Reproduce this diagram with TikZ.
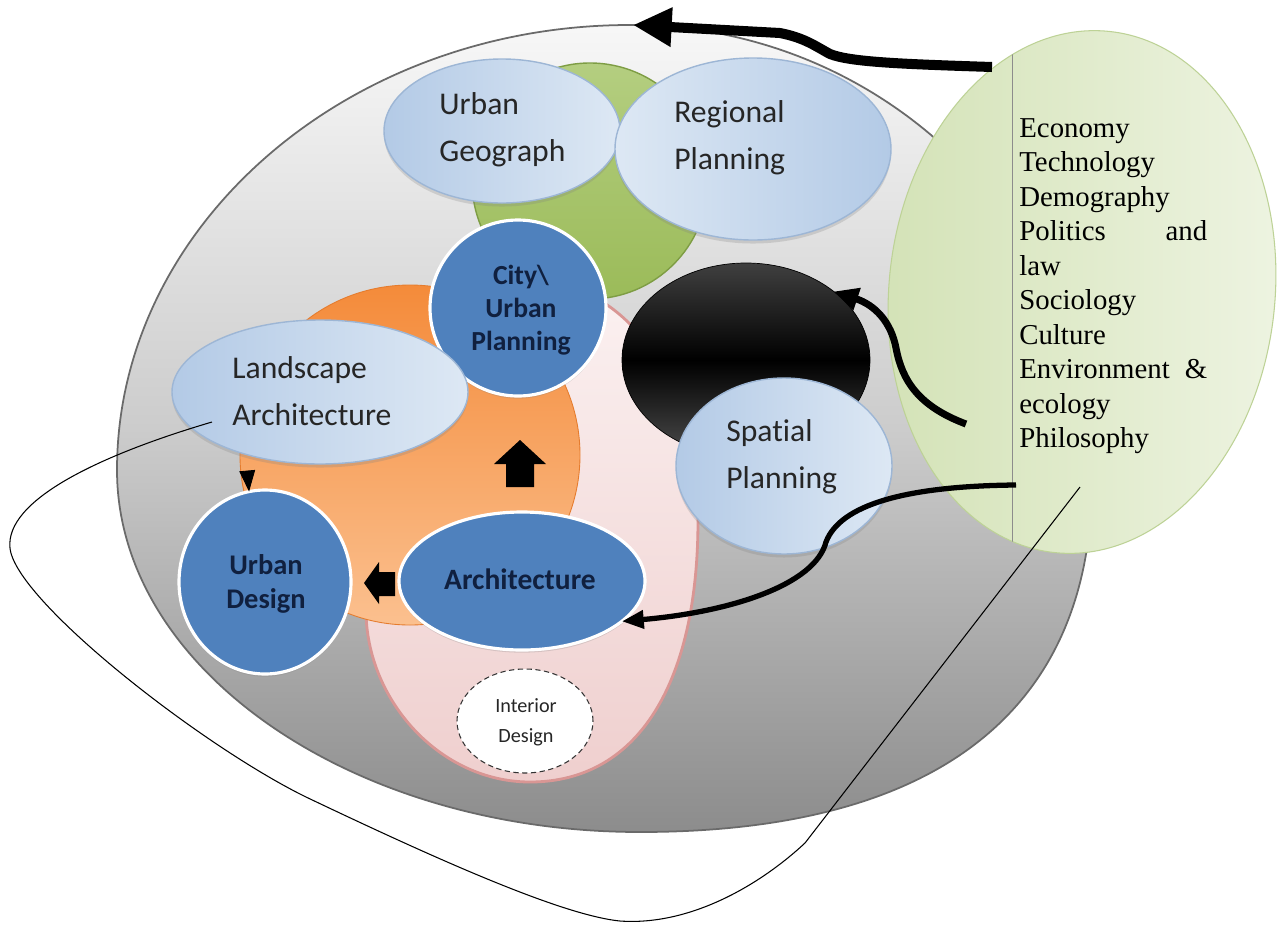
\documentclass[tikz,border=0pt]{standalone}
\usepackage{fontspec}
\usetikzlibrary{shapes.geometric,arrows.meta,shadows}
\newfontfamily\calib[Ligatures=NoCommon]{Carlito}
\newfontfamily\tnr{Liberation Serif}
\definecolor{lbdark}{HTML}{B3CAE6}
\definecolor{lblight}{HTML}{DDE8F4}
\definecolor{lbdraw}{HTML}{9DB6D5}
\definecolor{dblue}{HTML}{4F81BD}
\definecolor{navy}{HTML}{10203F}
\definecolor{txtdark}{HTML}{262626}
\definecolor{grn}{HTML}{9BBB59}
\definecolor{grnlight}{HTML}{B4CE80}
\definecolor{grndraw}{HTML}{7E9D44}
\definecolor{orng}{HTML}{F48B3A}
\definecolor{ornglight}{HTML}{FBC08F}
\definecolor{orngdraw}{HTML}{E57C2E}
\definecolor{pnk}{HTML}{EFCFCE}
\definecolor{pnklight}{HTML}{FBF1F1}
\definecolor{pnkdraw}{HTML}{D99694}
\definecolor{envgreen}{HTML}{D3E2B6}
\definecolor{envlight}{HTML}{EEF4E2}
\definecolor{envdraw}{HTML}{BDD296}
\definecolor{outl}{HTML}{6A6A6A}
\begin{document}
\begin{tikzpicture}[x=0.02cm,y=-0.02cm,
  sz/.style 2 args={minimum width=#1*0.02cm, minimum height=#2*0.02cm},
  shp/.style={ellipse, inner sep=0pt, outer sep=0pt},
  lightb/.style={shp, draw=lbdraw, line width=0.8pt, left color=lbdark, right color=lblight,
    drop shadow={shadow xshift=0pt, shadow yshift=-2pt, opacity=0.25}},
  darkb/.style={shp, fill=dblue, draw=white, line width=1.8pt,
    drop shadow={shadow xshift=0pt, shadow yshift=-1.5pt, opacity=0.25}},
  lbl/.style={inner sep=0pt, text=txtdark, align=left, font=\calib\fontsize{18}{26.6}\selectfont},
  dbl/.style={inner sep=0pt, text=navy, align=center},
]
\fill[white] (0,0) rectangle (1282,924);
\useasboundingbox (0,0) rectangle (1282,924);

% big grey field
\draw[draw=outl, line width=1pt, top color=white!97!black, bottom color=black!45, middle color=black!20]
  (630,25) .. controls (885,25) and (1092,229) .. (1092,480)
  .. controls (1092,700) and (950,832) .. (640,832)
  .. controls (352,832) and (117,669) .. (117,470)
  .. controls (117,225) and (348,25) .. (630,25) -- cycle;

% green disc behind
\node[shp, sz={236}{236}, draw=grndraw, line width=0.8pt, top color=grnlight, bottom color=grn] (grncirc) at (590,181) {};
\node[lightb, sz={236}{144}] (ug) at (502,131) {};
\node[lightb, sz={276}{182}, left color=lblight, right color=lbdark] (rp) at (753,149) {};

% pink egg
\draw[draw=pnkdraw, line width=1.6pt, top color=pnklight, bottom color=pnk]
  (560,285) .. controls (640,300) and (700,400) .. (698,520)
  .. controls (698,680) and (640,782) .. (530,782)
  .. controls (440,782) and (366,700) .. (366,610)
  .. controls (366,480) and (440,300) .. (560,285) -- cycle;

% orange disc
\node[shp, sz={340}{340}, draw=orngdraw, line width=0.5pt, top color=orng, bottom color=ornglight] (orange) at (410,455) {};
\fill[black] (520,440) -- (546,464) -- (534,464) -- (534,487) -- (506,487) -- (506,464) -- (494,464) -- cycle;

% black disc
\node[shp, sz={248}{194}, draw=black, top color=black!75, bottom color=black!70, middle color=black] (blk) at (746,360) {};

\node[darkb, sz={176}{176}] (city) at (518,308) {};
\node[lightb, sz={296}{144}] (land) at (320,392) {};
\node[lightb, sz={216}{176}] (spat) at (784,466) {};
\node[darkb, sz={172}{184}] (ud) at (265,582) {};
\node[darkb, sz={246}{138}] (arch) at (522,581) {};
\node[shp, sz={136}{104}, fill=white, draw=black!80, densely dashed, line width=0.6pt] (int) at (525,721) {};
\fill[black] (364,583) -- (379,562) -- (379,572) -- (395,572) -- (395,596) -- (379,596) -- (379,604) -- cycle;

% right green ellipse
\node[shp, sz={386}{524}, rotate=-6, draw=envdraw, line width=0.6pt, left color=envgreen, right color=envlight] (env) at (1082,292) {};
\begin{scope}
  \clip[rotate around={-6:(1082,292)}] (1082,292) ellipse [x radius=193, y radius=262];
  \draw[black!45, line width=0.4pt] (1012,0) -- (1012,924);
\end{scope}

% labels
\node[lbl, anchor=west] (ugt) at (439,130) {Urban\\Geograph};
\node[lbl, anchor=west] (rpt) at (674,138) {Regional\\Planning};
\node[lbl, anchor=west] (landt) at (232,391) {Landscape\\Architecture};
\node[lbl, anchor=west] (spatt) at (726,457) {Spatial\\Planning};
\node[dbl, font=\calib\bfseries\fontsize{15.7}{18.7}\selectfont] (cityt) at (521,310) {City\textbackslash\\Urban\\Planning};
\node[dbl, font=\calib\bfseries\fontsize{16.2}{19}\selectfont] (udt) at (266,584) {Urban\\Design};
\node[dbl, font=\calib\bfseries\fontsize{16.8}{20}\selectfont, anchor=base] (archt) at (520,589) {Architecture};
\node[dbl, text=txtdark, font=\calib\fontsize{11.5}{17}\selectfont] (intt) at (526,722) {Interior\\Design};
\node[inner sep=0pt, anchor=north west, text width=3.76cm, align=left, font=\tnr\fontsize{16.4}{19.65}\selectfont] (envt) at (1019,118)
  {Economy\\Technology\\Demography\\\makebox[3.76cm][s]{Politics\hfill and}\\law\\Sociology\\Culture\\\makebox[3.76cm][s]{Environment\hfill\&}\\ecology\\Philosophy};

% connectors
\coordinate (a1s) at (992,67);
\coordinate (a1e) at (633,25);
\draw[line width=5.7pt, -{Triangle[length=22pt,width=21pt]}] (a1s) .. controls (900,64) and (850,62) .. (830,54) .. controls (815,46) and (805,38) .. (780,33) -- (a1e);

\coordinate (a2s) at (966,424);
\draw[line width=4pt, -{Triangle[length=14pt,width=12.5pt]}] (a2s) .. controls (918,406) and (902,380) .. (896,348) .. controls (891,322) and (875,305) .. (blk.38);

\coordinate (a3s) at (1016,485);
\draw[line width=3pt, -{Triangle[length=12.5pt,width=10pt]}] (a3s) .. controls (905,486) and (840,505) .. (826,542) .. controls (815,585) and (730,612) .. (arch.-22);

\coordinate (ls) at (212,422);
\coordinate (le) at (1080,487);
\draw[line width=0.6pt] (ls) .. controls (100,455) and (5,500) .. (10,548)
  .. controls (15,600) and (200,745) .. (306,797)
  .. controls (430,856) and (560,915) .. (620,921)
  .. controls (690,926) and (760,885) .. (805,843) -- (le);

\draw[line width=0.5pt, shorten <=10pt, -{Triangle[length=12pt,width=9pt]}] (land.-140) -- (ud.100);
\end{tikzpicture}
\end{document}
